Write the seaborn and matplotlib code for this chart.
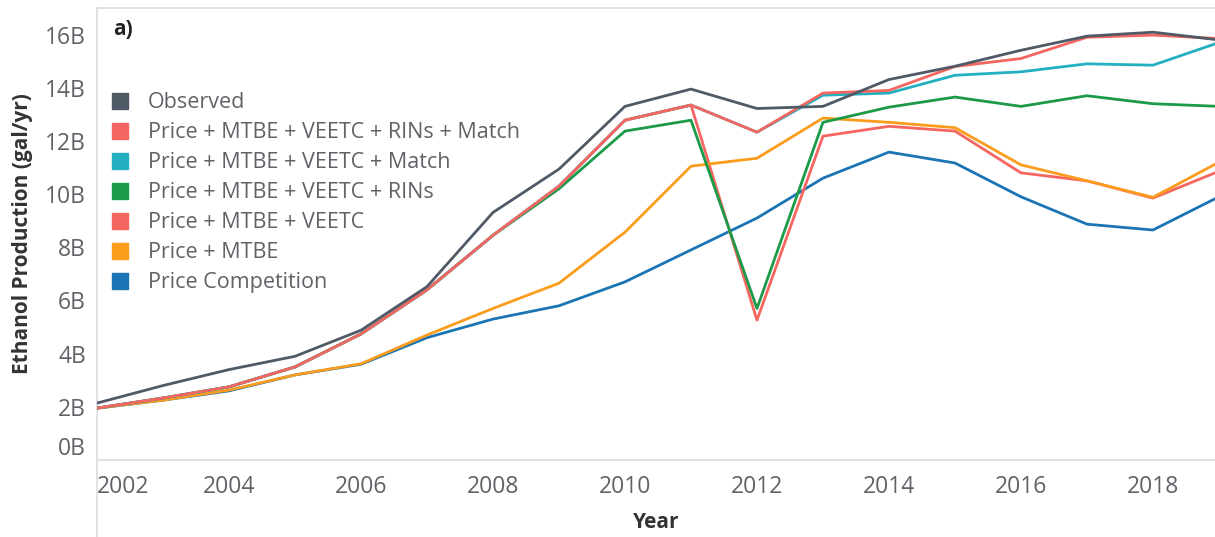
import numpy as np
import pandas as pd
import matplotlib
matplotlib.use("Agg")
import matplotlib.pyplot as plt
import matplotlib.transforms as mtransforms
from matplotlib.lines import Line2D
import seaborn as sns

# ---- data (billion gallons per year) ----
years = list(range(2002, 2020))

observed = [2.14, 2.80, 3.40, 3.90, 4.88, 6.52, 9.31, 10.94, 13.30, 13.95, 13.22, 13.30,
            14.31, 14.81, 15.41, 15.94, 16.09, 15.80]
rins_match = [1.95, 2.33, 2.75, 3.50, 4.74, 6.40, 8.45, 10.30, 12.78, 13.35, 12.33, 13.80,
              13.90, 14.80, 15.10, 15.90, 15.98, 15.85]
veetc_match = [1.95, 2.33, 2.75, 3.50, 4.74, 6.40, 8.45, 10.30, 12.78, 13.35, 12.33, 13.72,
               13.80, 14.47, 14.60, 14.90, 14.85, 15.70]
veetc_rins = [1.95, 2.33, 2.75, 3.50, 4.74, 6.40, 8.45, 10.20, 12.37, 12.78, 5.70, 12.70,
              13.27, 13.65, 13.30, 13.70, 13.40, 13.30]
veetc = [1.95, 2.33, 2.75, 3.50, 4.74, 6.40, 8.45, 10.30, 12.78, 13.35, 5.26, 12.18,
         12.55, 12.37, 10.80, 10.50, 9.85, 10.86]
mtbe = [1.95, 2.25, 2.63, 3.20, 3.62, 4.70, 5.70, 6.65, 8.57, 11.05, 11.35, 12.86,
        12.70, 12.50, 11.10, 10.50, 9.88, 11.20]
price_comp = [1.95, 2.25, 2.60, 3.20, 3.60, 4.60, 5.30, 5.80, 6.70, 7.90, 9.10, 10.60,
              11.58, 11.17, 9.90, 8.87, 8.65, 9.90]

series_names = [
    "Observed",
    "Price + MTBE + VEETC + RINs + Match",
    "Price + MTBE + VEETC + Match",
    "Price + MTBE + VEETC + RINs",
    "Price + MTBE + VEETC",
    "Price + MTBE",
    "Price Competition",
]
series_values = [observed, rins_match, veetc_match, veetc_rins, veetc, mtbe, price_comp]
series_colors = ["#4f5a66", "#f4665f", "#22b0c1", "#1b9a48", "#f4665f", "#fb9c1c", "#1b74b4"]
series_zorder = [9, 8, 7, 6, 4, 5, 3]

y_ticks = [0, 2, 4, 6, 8, 10, 12, 14, 16]
y_tick_labels = ["0B", "2B", "4B", "6B", "8B", "10B", "12B", "14B", "16B"]
x_ticks = [2002, 2004, 2006, 2008, 2010, 2012, 2014, 2016, 2018]

df = pd.DataFrame({
    "Year": np.tile(years, len(series_names)),
    "Production": np.concatenate(series_values),
    "Scenario": np.repeat(series_names, len(years)),
})

# ---- figure ----
sns.set_theme(style="white")
plt.rcParams["font.family"] = ["Open Sans", "DejaVu Sans"]

fig = plt.figure(figsize=(12.15, 5.37), dpi=100)
ax_left, ax_bottom = 97 / 1215, 77 / 537
ax = fig.add_axes([ax_left, ax_bottom, 1 - ax_left, 452 / 537])

palette = dict(zip(series_names, series_colors))
sns.lineplot(data=df, x="Year", y="Production", hue="Scenario", hue_order=series_names,
             palette=palette, linewidth=2.0, legend=False, ax=ax, estimator=None, sort=True)
for line, z in zip(ax.lines, series_zorder):
    line.set_zorder(z)
    line.set_solid_joinstyle("round")

ax.set_xlim(2002, 2018.94)
ax.set_ylim(0, 17.0)

ax.set_yticks(y_ticks)
ax.set_yticklabels(y_tick_labels)
ax.set_xticks(x_ticks)
ax.set_xticklabels([str(x) for x in x_ticks])
ax.tick_params(axis="both", length=0, labelsize=16.5, labelcolor="#5f6368")
ax.tick_params(axis="y", pad=8)
ax.tick_params(axis="x", pad=11)

# first year label sits inside the pane, bottom value label lifted above the axis
xl = ax.get_xticklabels()
xl[0].set_horizontalalignment("left")
yl = ax.get_yticklabels()
yl[0].set_transform(yl[0].get_transform() +
                    mtransforms.ScaledTranslation(0, 14 / 100, fig.dpi_scale_trans))

ax.set_xlabel("Year", fontsize=15, fontweight="bold", color="#333333")
ax.set_ylabel("Ethanol Production (gal/yr)", fontsize=15, fontweight="bold", color="#333333")
ax.xaxis.set_label_coords(0.5, -(512 - 460) / 452, transform=ax.transAxes)
ax.xaxis.label.set_verticalalignment("top")
ax.yaxis.set_label_coords(-(97 - 33) / 1118, 0.5)

ax.spines["right"].set_visible(False)
for side in ["top", "bottom", "left"]:
    ax.spines[side].set_color("#dcdcdc")
    ax.spines[side].set_linewidth(1.2)

# pane divider running to the bottom of the figure
fig.add_artist(Line2D([ax_left, ax_left], [0, ax_bottom], transform=fig.transFigure,
                      color="#dcdcdc", linewidth=1.2))

ax.text(0.014, 0.953, "a)", transform=ax.transAxes, fontsize=15, fontweight="bold",
        color="#222222", va="center", ha="left")

handles = [Line2D([], [], marker="s", linestyle="", markersize=11, color=c)
           for c in series_colors]
leg = ax.legend(handles, series_names, loc="upper left", bbox_to_anchor=(0.003, 0.833),
                frameon=False, fontsize=15.5, labelspacing=0.42, handletextpad=0.8,
                handlelength=1.0, borderaxespad=0)
for t in leg.get_texts():
    t.set_color("#5f6368")

fig.savefig("out.png", dpi=100)
